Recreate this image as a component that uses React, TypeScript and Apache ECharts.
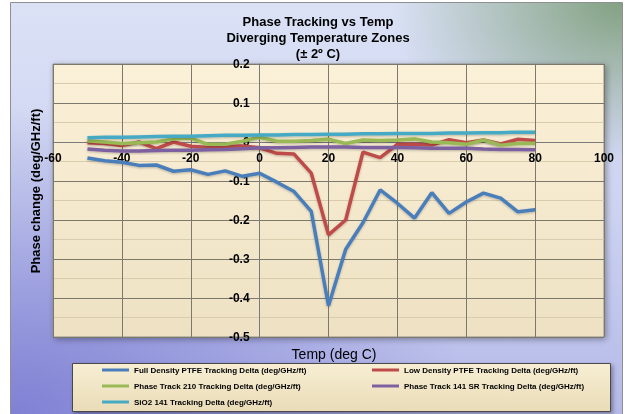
import React, { useEffect, useRef } from "react";
import * as echarts from "echarts";

const temps = [-50, -45, -40, -35, -30, -25, -20, -15, -10, -5, 0, 5, 10, 15, 20, 25, 30, 35, 40, 45, 50, 55, 60, 65, 70, 75, 80];

const fullDensity = [-0.041, -0.048, -0.052, -0.06, -0.059, -0.075, -0.071, -0.083, -0.074, -0.088, -0.08, -0.103, -0.127, -0.178, -0.42, -0.275, -0.207, -0.123, -0.157, -0.195, -0.13, -0.183, -0.154, -0.131, -0.144, -0.179, -0.174];
const lowDensity = [-0.002, -0.004, -0.009, 0.0, -0.017, 0.0, -0.011, -0.014, -0.011, -0.01, -0.015, -0.029, -0.031, -0.08, -0.238, -0.2, -0.026, -0.04, -0.006, -0.006, -0.008, 0.006, -0.002, 0.005, -0.005, 0.007, 0.004];
const phaseTrack210 = [0.003, 0.0, -0.004, -0.002, 0.0, 0.008, 0.01, -0.006, -0.006, 0.002, 0.012, 0.002, 0.002, 0.004, 0.007, -0.004, 0.005, 0.004, 0.005, 0.008, 0.0, -0.002, -0.006, 0.005, -0.008, -0.004, -0.003];
const phaseTrack141SR = [-0.018, -0.021, -0.023, -0.023, -0.022, -0.021, -0.021, -0.02, -0.019, -0.017, -0.015, -0.015, -0.014, -0.013, -0.013, -0.013, -0.014, -0.014, -0.014, -0.015, -0.016, -0.016, -0.016, -0.018, -0.019, -0.019, -0.02];
const sio2 = [0.011, 0.012, 0.012, 0.013, 0.014, 0.015, 0.015, 0.016, 0.017, 0.017, 0.018, 0.018, 0.019, 0.019, 0.02, 0.02, 0.021, 0.021, 0.022, 0.022, 0.022, 0.023, 0.023, 0.024, 0.024, 0.025, 0.025];

const seriesNames = [
  "Full Density PTFE Tracking Delta (deg/GHz/ft)",
  "Low Density PTFE Tracking Delta (deg/GHz/ft)",
  "Phase Track 210 Tracking Delta (deg/GHz/ft)",
  "Phase Track 141 SR Tracking Delta (deg/GHz/ft)",
  "SiO2 141 Tracking Delta (deg/GHz/ft)",
];
const seriesValues = [fullDensity, lowDensity, phaseTrack210, phaseTrack141SR, sio2];
const seriesColors = ["#4a7ebb", "#be4b48", "#98b954", "#7d60a0", "#46aac5"];

const titleLines = ["Phase Tracking vs Temp", "Diverging Temperature Zones", "(± 2º C)"];
const xAxisName = "Temp (deg C)";
const yAxisName = "Phase change (deg/GHz/ft)";

const X_MIN = -60, X_MAX = 100, X_STEP = 20;
const Y_MIN = -0.5, Y_MAX = 0.2, Y_STEP = 0.1;

const FONT = "'Liberation Sans', Arial, sans-serif";

const W = 625, H = 414;
const GRID = { left: 53, right: 21, top: 64, bottom: 77 };

export default function App() {
  const ref = useRef<HTMLDivElement>(null);
  useEffect(() => {
    if (!ref.current) return;
    const chart = echarts.init(ref.current, null, { renderer: "svg" });
    const gridW = W - GRID.left - GRID.right;
    const gridH = H - GRID.top - GRID.bottom;
    // place axis lines at zero (crossing) like the reference
    const xAxisOffset = -gridH * (0 - Y_MIN) / (Y_MAX - Y_MIN);
    const yAxisOffset = -gridW * (0 - X_MIN) / (X_MAX - X_MIN);
    const legendText = {
      fontSize: 8,
      fontWeight: "bold",
      fontFamily: FONT,
      color: "#000",
      lineHeight: 12,
    };
    chart.setOption({
      animation: false,
      graphic: [
        {
          type: "rect",
          z: -100,
          shape: { x: 10.5, y: 2.5, width: 612, height: 420 },
          style: {
            fill: {
              type: "linear", x: 0, y: 0, x2: 0, y2: 1,
              colorStops: [
                { offset: 0, color: "#dbe2f6" },
                { offset: 0.5, color: "#ccd2f0" },
                { offset: 1, color: "#b4b8e8" },
              ],
            },
            stroke: "#8f8f8f",
            lineWidth: 1,
          },
        },
        {
          type: "rect",
          z: -99,
          shape: { x: 11, y: 3, width: 611, height: 411 },
          style: {
            fill: {
              type: "radial", x: 0, y: 1, r: 0.75,
              colorStops: [
                { offset: 0, color: "rgba(110,110,205,0.75)" },
                { offset: 1, color: "rgba(110,110,205,0)" },
              ],
            },
          },
        },
        {
          type: "rect",
          z: -98,
          shape: { x: 11, y: 3, width: 611, height: 411 },
          style: {
            fill: {
              type: "radial", x: 1, y: 0, r: 0.38,
              colorStops: [
                { offset: 0, color: "rgba(115,150,110,0.85)" },
                { offset: 1, color: "rgba(115,150,110,0)" },
              ],
            },
          },
        },
        {
          type: "rect",
          z: -50,
          shape: { x: 72.5, y: 363.5, width: 538, height: 48 },
          style: {
            fill: {
              type: "linear", x: 0, y: 0, x2: 0, y2: 1,
              colorStops: [
                { offset: 0, color: "#f7eed3" },
                { offset: 1, color: "#eadcb8" },
              ],
            },
            stroke: "#4a4a4a",
            lineWidth: 1,
            shadowBlur: 4,
            shadowColor: "rgba(0,0,0,0.35)",
            shadowOffsetX: 2,
            shadowOffsetY: 2,
          },
        },
        {
          type: "text",
          z: 10,
          x: 318,
          y: 13,
          style: {
            text: titleLines.join("\n"),
            fill: "#000",
            font: `bold 13px ${FONT}`,
            lineHeight: 16,
            align: "center",
            verticalAlign: "top",
          },
        },
        {
          type: "text",
          z: 10,
          x: 334,
          y: 354,
          style: {
            text: xAxisName,
            fill: "#000",
            font: `14px ${FONT}`,
            align: "center",
            verticalAlign: "middle",
          },
        },
        {
          type: "text",
          z: 10,
          x: 35,
          y: 191,
          rotation: Math.PI / 2,
          style: {
            text: yAxisName,
            fill: "#000",
            font: `bold 13px ${FONT}`,
            align: "center",
            verticalAlign: "middle",
          },
        },
      ],
      grid: {
        left: GRID.left,
        right: GRID.right,
        top: GRID.top,
        bottom: GRID.bottom,
        show: true,
        backgroundColor: {
          type: "linear", x: 0, y: 0, x2: 0, y2: 1,
          colorStops: [
            { offset: 0, color: "#fbf1d8" },
            { offset: 1, color: "#eee1c3" },
          ],
        },
        borderColor: "#8c8c8c",
        borderWidth: 1,
        shadowBlur: 6,
        shadowColor: "rgba(0,0,0,0.35)",
        shadowOffsetX: 2,
        shadowOffsetY: 2,
      },
      legend: [
        {
          data: [seriesNames[0], seriesNames[2], seriesNames[4]],
          orient: "vertical",
          left: 102,
          top: 364,
          padding: 0,
          itemWidth: 27,
          itemHeight: 3,
          itemGap: 4,
          icon: "rect",
          selectedMode: false,
          textStyle: legendText,
        },
        {
          data: [seriesNames[1], seriesNames[3]],
          orient: "vertical",
          left: 372,
          top: 364,
          padding: 0,
          itemWidth: 27,
          itemHeight: 3,
          itemGap: 4,
          icon: "rect",
          selectedMode: false,
          textStyle: legendText,
        },
      ],
      xAxis: {
        type: "value",
        min: X_MIN,
        max: X_MAX,
        interval: X_STEP,
        position: "bottom",
        offset: xAxisOffset,
        axisLine: { onZero: false, lineStyle: { color: "#7a7a7a", width: 1 } },
        axisTick: { show: true, length: 5, lineStyle: { color: "#7a7a7a" } },
        axisLabel: { color: "#000", fontWeight: "bold", fontSize: 12, fontFamily: FONT, margin: 10 },
        splitLine: { show: true, lineStyle: { color: "#7d786c", width: 1 } },
      },
      yAxis: {
        type: "value",
        min: Y_MIN,
        max: Y_MAX,
        interval: Y_STEP,
        position: "left",
        offset: yAxisOffset,
        axisLine: { onZero: false, lineStyle: { color: "#7a7a7a", width: 1 } },
        axisTick: { show: true, length: 5, lineStyle: { color: "#7a7a7a" } },
        axisLabel: { color: "#000", fontWeight: "bold", fontSize: 12, fontFamily: FONT, margin: 10 },
        splitLine: { show: true, lineStyle: { color: "#7d786c", width: 1 } },
        minorTick: { show: false, splitNumber: 2 },
        minorSplitLine: { show: true, lineStyle: { color: "#d9ccac", width: 1 } },
      },
      series: seriesNames.map((name, i) => ({
        name,
        type: "line",
        color: seriesColors[i],
        showSymbol: false,
        symbol: "none",
        data: temps.map((t, j) => [t, seriesValues[i][j]]),
        lineStyle: {
          width: 3.5,
          color: seriesColors[i],
          shadowBlur: 2,
          shadowColor: "rgba(0,0,0,0.25)",
          shadowOffsetY: 1,
        },
        z: 3 + i,
      })),
    });
    return () => chart.dispose();
  }, []);
  return (
    <div
      ref={ref}
      style={{ position: "fixed", left: 0, top: 0, width: W, height: H }}
    />
  );
}
